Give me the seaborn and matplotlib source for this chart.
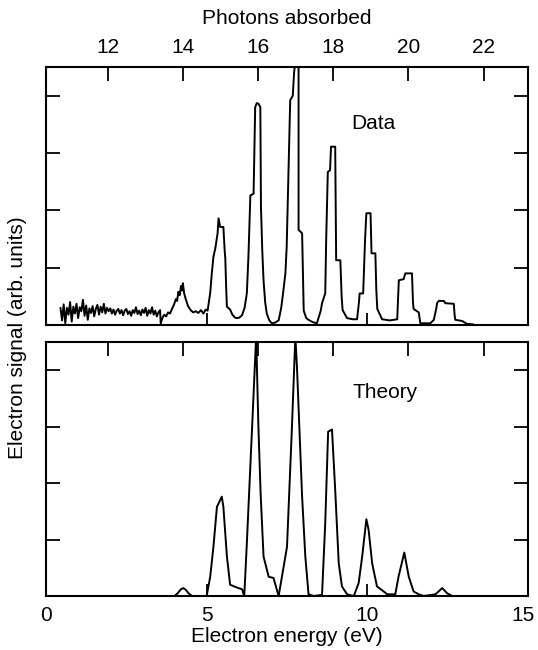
import matplotlib
matplotlib.use("Agg")
import matplotlib.pyplot as plt
import matplotlib.transforms as mtransforms
import seaborn as sns
import pandas as pd

sns.set_theme(style="white")
plt.rcParams['font.family'] = ['Liberation Sans', 'DejaVu Sans']
plt.rcParams['text.color'] = 'black'
plt.rcParams['axes.labelcolor'] = 'black'
plt.rcParams['xtick.color'] = 'black'
plt.rcParams['ytick.color'] = 'black'
plt.rcParams['xtick.labelcolor'] = 'black'

# ---------------- data ----------------
data_energy = [
    0.45, 0.50, 0.55, 0.60, 0.65, 0.70, 0.75, 0.80, 0.85, 0.90, 0.95, 1.00, 1.05, 1.10, 1.15,
    1.20, 1.25, 1.30, 1.35, 1.40, 1.45, 1.50, 1.55, 1.60, 1.65, 1.70, 1.75, 1.80, 1.85, 1.90,
    1.95, 2.00, 2.05, 2.10, 2.15, 2.20, 2.25, 2.30, 2.35, 2.40, 2.45, 2.50, 2.55, 2.60, 2.65,
    2.70, 2.75, 2.80, 2.85, 2.90, 2.95, 3.00, 3.05, 3.10, 3.15, 3.20, 3.25, 3.30, 3.35, 3.40,
    3.45, 3.50, 3.55, 3.57, 3.62, 3.68, 3.74, 3.80, 3.86, 3.92, 3.98, 4.04, 4.08, 4.12, 4.16,
    4.20, 4.23, 4.26, 4.30, 4.35, 4.42, 4.50, 4.58, 4.66, 4.74, 4.82, 4.90, 4.97, 5.03, 5.08,
    5.11, 5.16, 5.21, 5.27, 5.34, 5.37, 5.42, 5.52, 5.56, 5.58, 5.61, 5.63, 5.73, 5.80, 5.88,
    5.94, 6.02, 6.10, 6.18, 6.25, 6.30, 6.34, 6.36, 6.46, 6.49, 6.51, 6.56, 6.61, 6.67, 6.69,
    6.73, 6.77, 6.82, 6.87, 6.95, 7.03, 7.12, 7.24, 7.32, 7.39, 7.45, 7.49, 7.55, 7.60, 7.68,
    7.72, 7.76, 7.86, 7.86, 7.97, 8.00, 8.02, 8.10, 8.17, 8.30, 8.43, 8.55, 8.59, 8.69, 8.72,
    8.77, 8.84, 8.87, 9.00, 9.03, 9.16, 9.20, 9.23, 9.37, 9.55, 9.68, 9.74, 9.76, 9.87, 9.93,
    9.97, 10.10, 10.13, 10.25, 10.28, 10.31, 10.46, 10.70, 10.93, 10.98, 11.13, 11.18, 11.39, 11.42, 11.44,
    11.60, 11.65, 11.96, 12.07, 12.15, 12.17, 12.22, 12.38, 12.43, 12.69, 12.72, 12.74, 12.95, 13.10, 13.30,
]
data_signal = [
    0.30, 0.08, 0.36, 0.03, 0.30, 0.18, 0.40, 0.06, 0.32, 0.20, 0.37, 0.12, 0.31, 0.24, 0.44,
    0.16, 0.34, 0.09, 0.29, 0.21, 0.33, 0.15, 0.28, 0.35, 0.18, 0.32, 0.22, 0.37, 0.20, 0.30,
    0.24, 0.29, 0.20, 0.27, 0.18, 0.25, 0.28, 0.20, 0.26, 0.17, 0.25, 0.28, 0.19, 0.24, 0.16,
    0.26, 0.21, 0.31, 0.19, 0.25, 0.17, 0.27, 0.21, 0.30, 0.16, 0.26, 0.20, 0.31, 0.18, 0.25,
    0.15, 0.22, 0.26, 0.03, 0.12, 0.18, 0.15, 0.22, 0.20, 0.28, 0.35, 0.45, 0.42, 0.58, 0.52,
    0.68, 0.60, 0.73, 0.55, 0.45, 0.33, 0.26, 0.22, 0.24, 0.21, 0.26, 0.20, 0.27, 0.25, 0.45,
    0.56, 0.90, 1.19, 1.34, 1.60, 1.86, 1.71, 1.71, 1.30, 1.16, 0.60, 0.32, 0.27, 0.18, 0.13,
    0.12, 0.13, 0.17, 0.30, 0.55, 1.20, 1.90, 2.26, 2.29, 3.20, 3.80, 3.87, 3.86, 3.80, 2.06,
    1.30, 0.78, 0.40, 0.20, 0.08, 0.03, 0.04, 0.08, 0.30, 0.61, 0.90, 1.36, 2.80, 3.92, 4.00,
    4.40, 4.60, 4.60, 1.66, 1.60, 0.80, 0.25, 0.12, 0.09, 0.05, 0.03, 0.25, 0.38, 0.55, 1.50,
    2.67, 2.70, 3.11, 3.11, 1.13, 1.13, 0.50, 0.26, 0.12, 0.10, 0.10, 0.40, 0.55, 0.55, 1.50,
    1.95, 1.95, 1.25, 1.25, 0.60, 0.28, 0.10, 0.08, 0.10, 0.78, 0.80, 0.90, 0.90, 0.40, 0.28,
    0.22, 0.03, 0.03, 0.09, 0.30, 0.38, 0.42, 0.42, 0.38, 0.37, 0.15, 0.09, 0.07, 0.02, 0.01,
]

theory_energy = [
    0.0, 4.0, 4.1, 4.2, 4.27, 4.35, 4.45, 4.55, 5.0, 5.11, 5.21, 5.32, 5.47, 5.52, 5.63,
    5.73, 5.94, 6.10, 6.17, 6.25, 6.41, 6.54, 6.61, 6.68, 6.77, 6.93, 7.08, 7.24, 7.50, 7.65,
    7.76, 7.81, 7.97, 8.07, 8.17, 8.33, 8.59, 8.69, 8.78, 8.90, 9.00, 9.11, 9.21, 9.37, 9.58,
    9.73, 9.84, 9.97, 10.04, 10.15, 10.30, 10.51, 10.62, 10.87, 10.97, 11.15, 11.29, 11.44, 11.60, 11.75,
    12.12, 12.33, 12.48, 12.64, 15.0,
]
theory_signal = [
    0.0, 0.0, 0.05, 0.12, 0.14, 0.11, 0.04, 0.0, 0.0, 0.34, 0.87, 1.58, 1.76, 1.58, 0.70,
    0.20, 0.15, 0.12, 0.0, 0.93, 2.94, 4.60, 3.00, 1.80, 0.70, 0.34, 0.32, 0.0, 0.87, 2.94,
    4.60, 4.06, 1.76, 0.70, 0.03, 0.0, 0.02, 1.29, 2.91, 2.95, 1.88, 0.58, 0.17, 0.03, 0.0,
    0.23, 0.70, 1.36, 1.17, 0.58, 0.17, 0.08, 0.03, 0.03, 0.34, 0.77, 0.34, 0.08, 0.03, 0.0,
    0.03, 0.14, 0.05, 0.0, 0.0,
]

energy_ticks = [0, 5, 10, 15]
photon_ticks = [12, 14, 16, 18, 20, 22]
photon_ref_number = 16
photon_ref_energy = 6.60
photon_energy = 1.17

df_data = pd.DataFrame({"energy": data_energy, "signal": data_signal})
df_theory = pd.DataFrame({"energy": theory_energy, "signal": theory_signal})

# ---------------- figure ----------------
fig = plt.figure(figsize=(5.38, 6.5), dpi=100)
L, R = 46 / 538, 528 / 538
ax1 = fig.add_axes([L, 1 - 325 / 650, R - L, (325 - 67) / 650])
ax2 = fig.add_axes([L, 1 - 596 / 650, R - L, (596 - 342) / 650])

FS = 15
lw = 1.4


def e2n(e):
    return photon_ref_number + (e - photon_ref_energy) / photon_energy


def n2e(n):
    return photon_ref_energy + (n - photon_ref_number) * photon_energy


for ax, df, label, lx, ly in [(ax1, df_data, "Data", 10.19, 3.52),
                              (ax2, df_theory, "Theory", 10.56, 3.6)]:
    sns.lineplot(data=df, x="energy", y="signal", ax=ax, sort=False,
                 estimator=None, color="black", linewidth=lw)
    ax.set_xlim(0, 15)
    ax.set_ylim(0, 4.5)
    ax.set_xlabel("")
    ax.set_ylabel("")
    ax.set_yticks([1, 2, 3, 4])
    ax.set_xticks(energy_ticks)
    ax.tick_params(axis="y", which="both", direction="in", left=True, right=True,
                   labelleft=False, length=10, width=1.3, color="black")
    ax.tick_params(axis="x", direction="in", bottom=True, top=False, length=9,
                   width=1.3, color="black", labelsize=FS, pad=7, labelcolor="black")
    for s in ax.spines.values():
        s.set_visible(True)
        s.set_color("black")
        s.set_linewidth(1.5)
    ax.text(lx, ly, label, fontsize=FS, ha="center", va="center", color="black")
    sec = ax.secondary_xaxis("top", functions=(e2n, n2e))
    sec.set_xticks(photon_ticks)
    sec.tick_params(axis="x", direction="in", length=10, width=1.3, color="black",
                    labelsize=FS, pad=7, labelcolor="black")
    sec.spines["top"].set_visible(False)
    if ax is ax1:
        sec.set_xlabel("Photons absorbed", fontsize=FS, labelpad=10, color="black")
    else:
        sec.tick_params(labeltop=False)

ax1.tick_params(axis="x", labelbottom=False)
ax2.set_xlabel("Electron energy (eV)", fontsize=FS, labelpad=2, color="black")
fig.text(18 / 538, 1 - 338 / 650, "Electron signal (arb. units)", rotation=90,
         fontsize=FS, ha="center", va="center", color="black")

# nudge the last bottom tick label ("15") slightly inward so it stays on the canvas
last_tick = ax2.xaxis.get_major_ticks()[-1]
shift = mtransforms.ScaledTranslation(-5 / 100, 0, fig.dpi_scale_trans)
last_tick.label1.set_transform(last_tick.label1.get_transform() + shift)

fig.savefig("out.png", dpi=100, facecolor="white")
